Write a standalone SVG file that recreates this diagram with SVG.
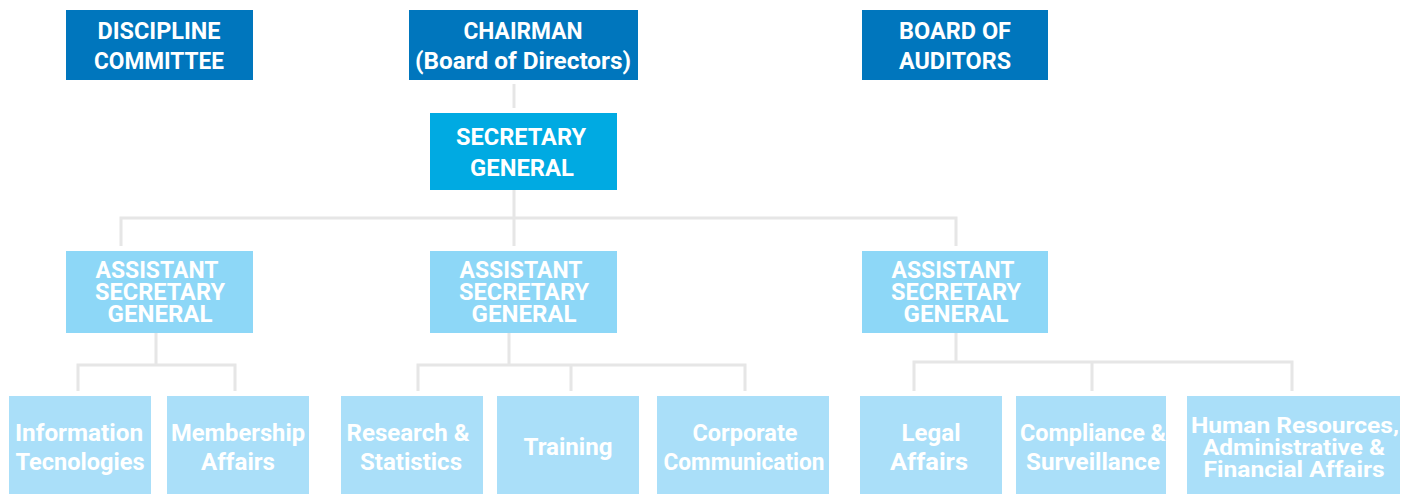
<svg xmlns="http://www.w3.org/2000/svg" width="1409" height="494" viewBox="0 0 1409 494">
  <style>
    .t { font-family: Roboto, "Liberation Sans", sans-serif; font-weight: bold; fill: #ffffff; text-anchor: middle; }
    .top { fill: #0076bd; }
    .sg { fill: #00aae2; }
    .asg { fill: #8dd7f7; }
    .dept { fill: #aadff9; }
    .f24 { font-size: 24px; }
    .f23 { font-size: 23px; }
    .f22 { font-size: 22px; }
    .link { fill: none; stroke: #e6e6e6; stroke-width: 3; }
  </style>

  <!-- connectors -->
  <g id="connectors" class="link">
    <path d="M514 84 V108"/>
    <path d="M514 190 V218 M121 246 V218 H956 V246 M514 218 V246"/>
    <path d="M156 333 V365 M78 391 V365 H235 V391"/>
    <path d="M509 333 V365 M418 391 V365 H745 V391 M571 365 V391"/>
    <path d="M956 333 V362 M914 391 V362 H1292 V391 M1092 362 V391"/>
  </g>

  <!-- top level -->
  <g id="discipline-committee">
    <rect class="top" x="66" y="10" width="187" height="70"/>
    <text class="t f24" x="159" y="39" textLength="123" lengthAdjust="spacingAndGlyphs">DISCIPLINE</text>
    <text class="t f24" x="159" y="69" textLength="130" lengthAdjust="spacingAndGlyphs">COMMITTEE</text>
  </g>
  <g id="chairman">
    <rect class="top" x="409" y="10" width="229" height="70"/>
    <text class="t f24" x="523" y="39" textLength="119" lengthAdjust="spacingAndGlyphs">CHAIRMAN</text>
    <text class="t f24" x="523" y="69" textLength="216" lengthAdjust="spacingAndGlyphs">(Board of Directors)</text>
  </g>
  <g id="board-of-auditors">
    <rect class="top" x="862" y="10" width="186" height="70"/>
    <text class="t f24" x="955" y="39" textLength="112" lengthAdjust="spacingAndGlyphs">BOARD OF</text>
    <text class="t f24" x="955" y="69" textLength="112" lengthAdjust="spacingAndGlyphs">AUDITORS</text>
  </g>

  <g id="secretary-general">
    <rect class="sg" x="430" y="113" width="187" height="77"/>
    <text class="t f24" x="521" y="145" textLength="130" lengthAdjust="spacingAndGlyphs">SECRETARY</text>
    <text class="t f24" x="522" y="176" textLength="104" lengthAdjust="spacingAndGlyphs">GENERAL</text>
  </g>

  <!-- assistant secretaries general -->
  <g id="asg-1">
    <rect class="asg" x="66" y="251" width="187" height="82"/>
    <text class="t f23" x="157" y="278" textLength="123" lengthAdjust="spacingAndGlyphs">ASSISTANT</text>
    <text class="t f23" x="160" y="300" textLength="130" lengthAdjust="spacingAndGlyphs">SECRETARY</text>
    <text class="t f23" x="160" y="322" textLength="105" lengthAdjust="spacingAndGlyphs">GENERAL</text>
  </g>
  <g id="asg-2">
    <rect class="asg" x="430" y="251" width="187" height="82"/>
    <text class="t f23" x="521" y="278" textLength="123" lengthAdjust="spacingAndGlyphs">ASSISTANT</text>
    <text class="t f23" x="524" y="300" textLength="130" lengthAdjust="spacingAndGlyphs">SECRETARY</text>
    <text class="t f23" x="524" y="322" textLength="105" lengthAdjust="spacingAndGlyphs">GENERAL</text>
  </g>
  <g id="asg-3">
    <rect class="asg" x="862" y="251" width="186" height="82"/>
    <text class="t f23" x="953" y="278" textLength="123" lengthAdjust="spacingAndGlyphs">ASSISTANT</text>
    <text class="t f23" x="956" y="300" textLength="130" lengthAdjust="spacingAndGlyphs">SECRETARY</text>
    <text class="t f23" x="956" y="322" textLength="105" lengthAdjust="spacingAndGlyphs">GENERAL</text>
  </g>

  <!-- departments -->
  <g id="information-technologies">
    <rect class="dept" x="9" y="396" width="142" height="98"/>
    <text class="t f24" x="79" y="441" textLength="128" lengthAdjust="spacingAndGlyphs">Information</text>
    <text class="t f24" x="80" y="470" textLength="129" lengthAdjust="spacingAndGlyphs">Tecnologies</text>
  </g>
  <g id="membership-affairs">
    <rect class="dept" x="167" y="396" width="142" height="98"/>
    <text class="t f24" x="238" y="441" textLength="134" lengthAdjust="spacingAndGlyphs">Membership</text>
    <text class="t f24" x="238" y="470" textLength="74" lengthAdjust="spacingAndGlyphs">Affairs</text>
  </g>
  <g id="research-statistics">
    <rect class="dept" x="341" y="396" width="142" height="98"/>
    <text class="t f24" x="408" y="441" textLength="123" lengthAdjust="spacingAndGlyphs">Research &amp;</text>
    <text class="t f24" x="411" y="470" textLength="102" lengthAdjust="spacingAndGlyphs">Statistics</text>
  </g>
  <g id="training">
    <rect class="dept" x="497" y="396" width="142" height="98"/>
    <text class="t f24" x="568" y="455" textLength="89" lengthAdjust="spacingAndGlyphs">Training</text>
  </g>
  <g id="corporate-communication">
    <rect class="dept" x="657" y="396" width="172" height="98"/>
    <text class="t f24" x="745" y="441" textLength="105" lengthAdjust="spacingAndGlyphs">Corporate</text>
    <text class="t f24" x="744" y="470" textLength="161" lengthAdjust="spacingAndGlyphs">Communication</text>
  </g>
  <g id="legal-affairs">
    <rect class="dept" x="860" y="396" width="142" height="98"/>
    <text class="t f24" x="931" y="441" textLength="59" lengthAdjust="spacingAndGlyphs">Legal</text>
    <text class="t f24" x="929" y="470" textLength="78" lengthAdjust="spacingAndGlyphs">Affairs</text>
  </g>
  <g id="compliance-surveillance">
    <rect class="dept" x="1016" y="396" width="150" height="98"/>
    <text class="t f24" x="1093" y="441" textLength="146" lengthAdjust="spacingAndGlyphs">Compliance &amp;</text>
    <text class="t f24" x="1093" y="470" textLength="134" lengthAdjust="spacingAndGlyphs">Surveillance</text>
  </g>
  <g id="hr-administrative-financial">
    <rect class="dept" x="1187" y="396" width="213" height="98"/>
    <text class="t f22" x="1295" y="433" textLength="208" lengthAdjust="spacingAndGlyphs">Human Resources,</text>
    <text class="t f22" x="1294" y="455" textLength="182" lengthAdjust="spacingAndGlyphs">Administrative &amp;</text>
    <text class="t f22" x="1294" y="477" textLength="181" lengthAdjust="spacingAndGlyphs">Financial Affairs</text>
  </g>
</svg>
